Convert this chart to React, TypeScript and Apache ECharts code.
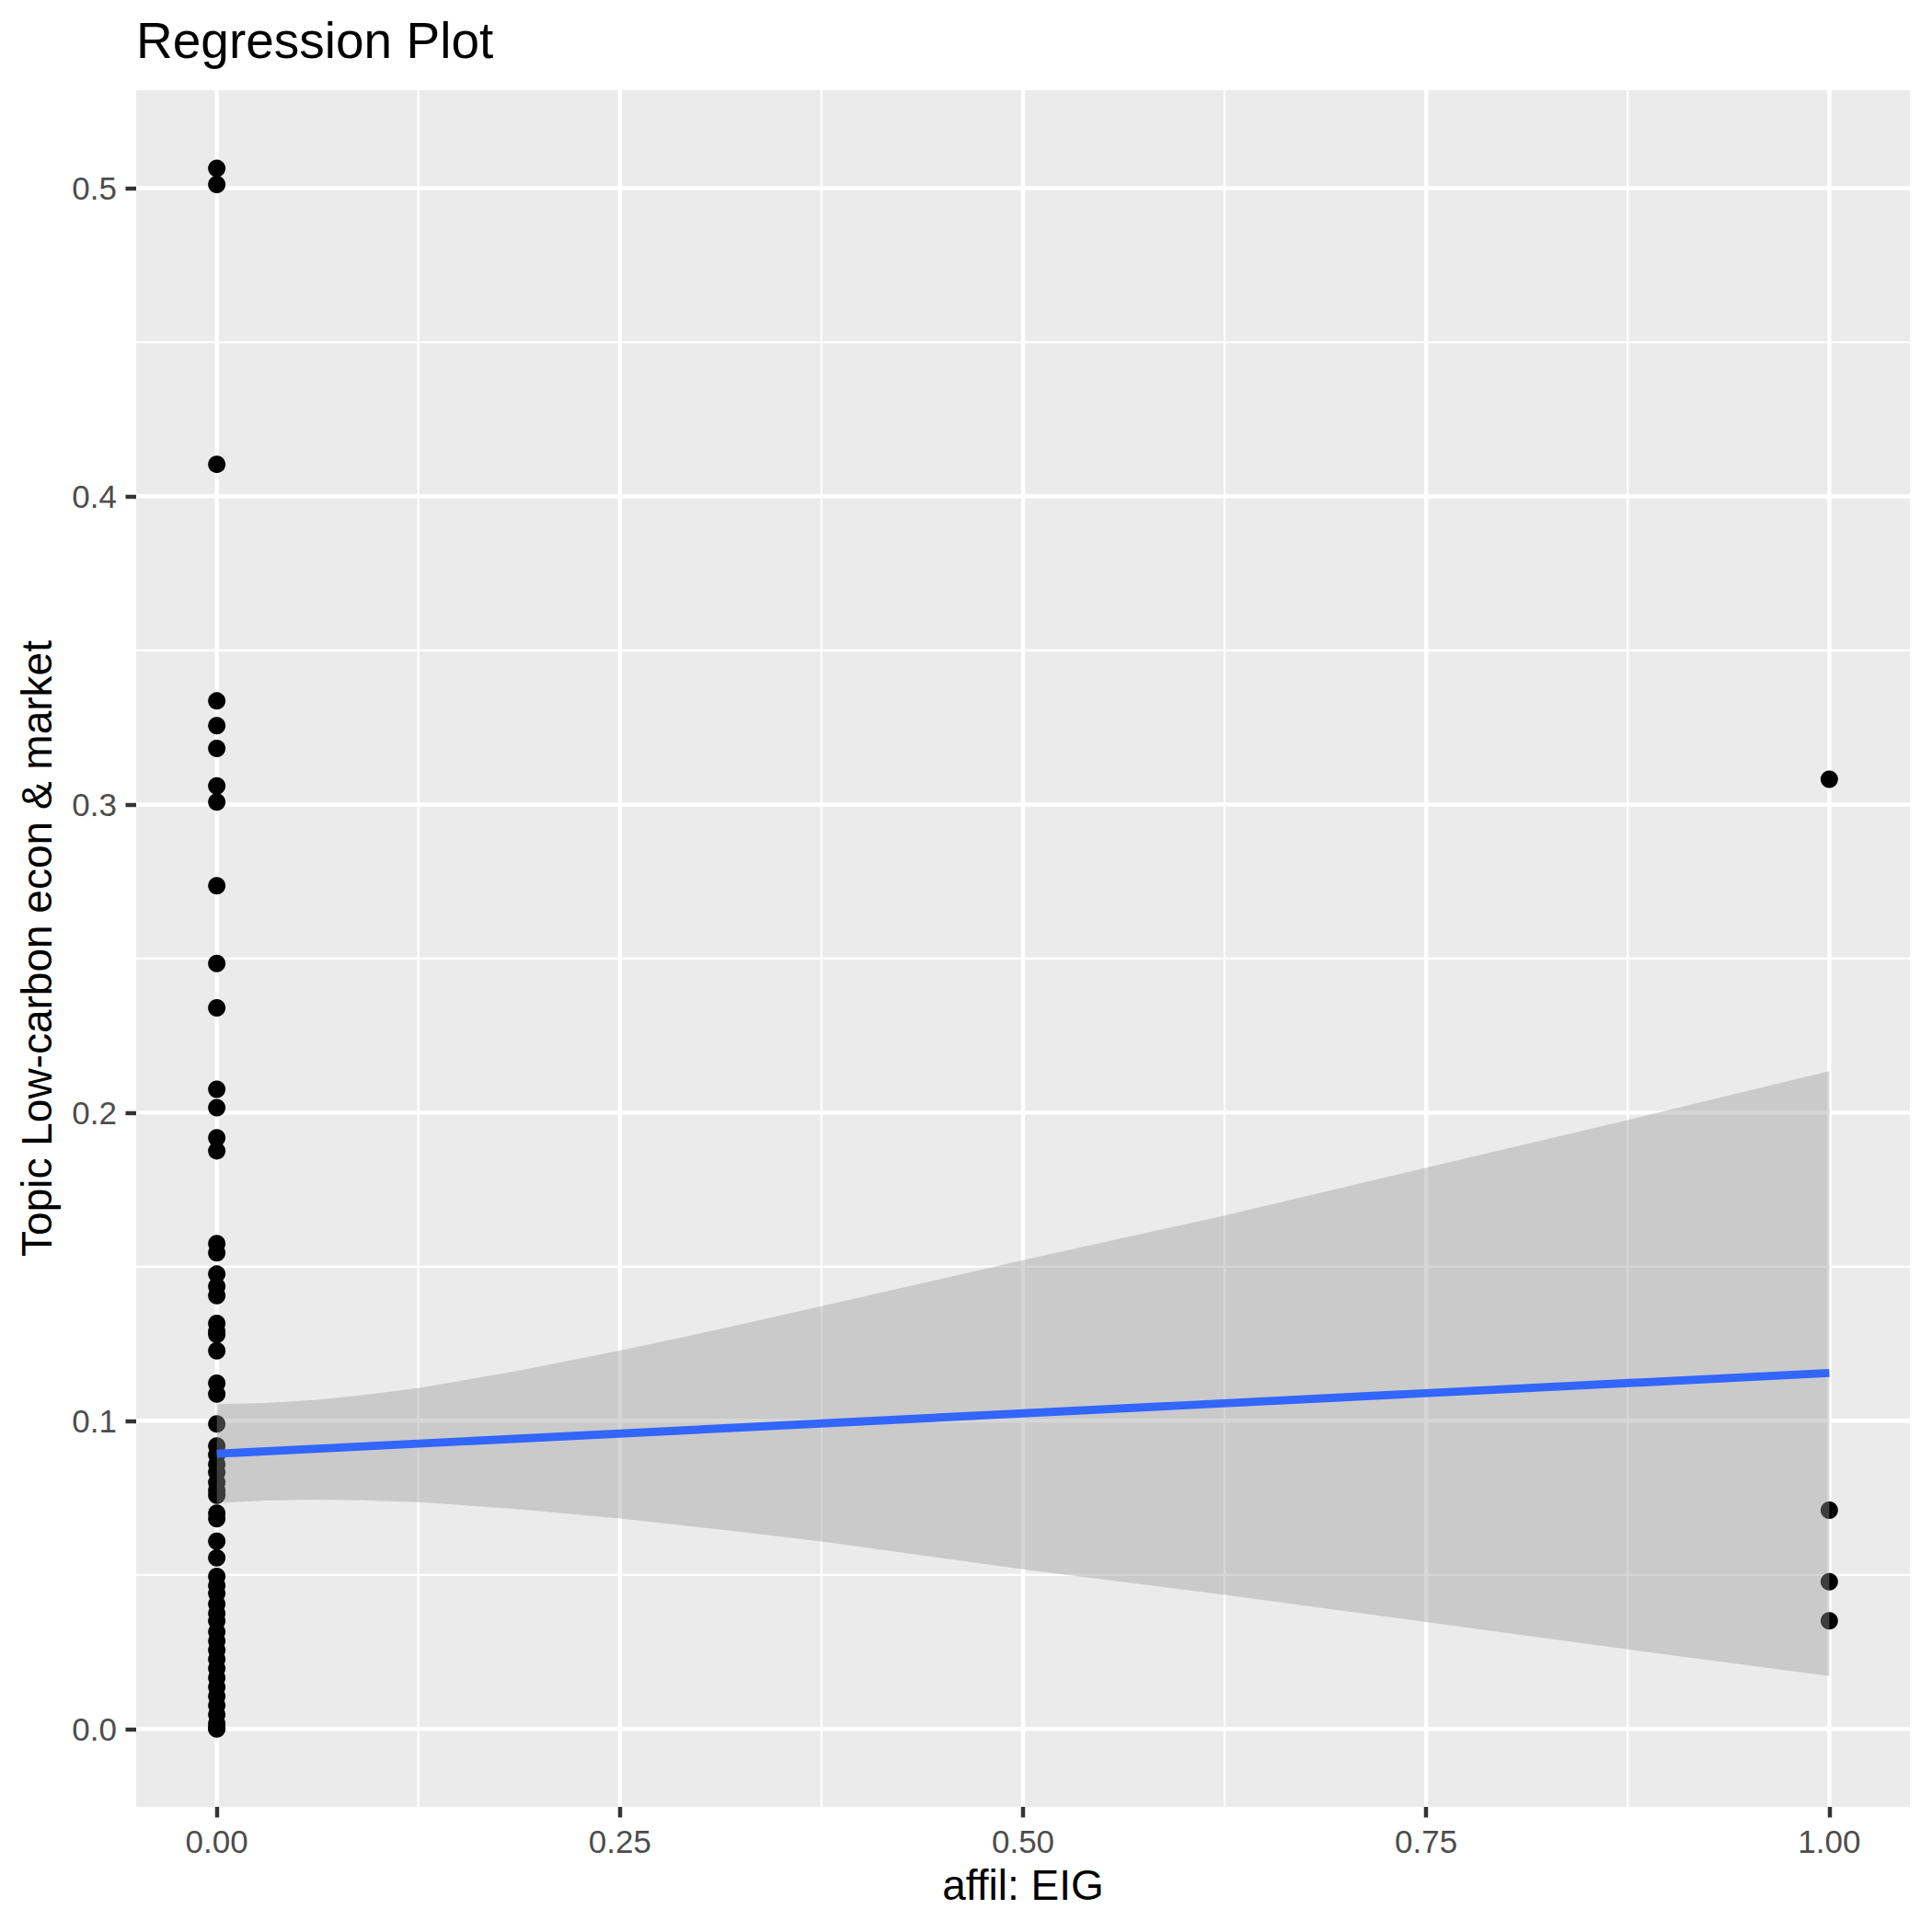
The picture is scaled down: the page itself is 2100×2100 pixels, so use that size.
import React, { useEffect, useRef } from "react";
import * as echarts from "echarts";

// ---- data ----
const groupZeroValues = [
  0.5064, 0.5012, 0.4104,
  0.3336, 0.3256, 0.3182, 0.306, 0.3008, 0.2736, 0.2484, 0.234, 0.2076, 0.2016,
  0.1918, 0.1876,
  0.1575, 0.1545, 0.1476, 0.1436, 0.1406, 0.1316, 0.129, 0.128, 0.1227, 0.1122, 0.1087, 0.099,
  0.0918, 0.089, 0.0858, 0.0833, 0.08, 0.0775, 0.0758, 0.07, 0.0682, 0.0609, 0.0555,
  0.0495, 0.0465, 0.044, 0.0405, 0.0375, 0.035, 0.0315, 0.0285, 0.0256, 0.0226,
  0.0196, 0.0166, 0.0136, 0.0106, 0.0076, 0.0046, 0.0017, 0.0003, 0.0,
];
const groupOneValues = [0.3082, 0.071, 0.0478, 0.0351];

const fitX = [0, 1];
const fitY = [0.0893, 0.1155];

const bandX = [0, 0.03, 0.0625, 0.09, 0.125, 0.1875, 0.25, 0.3125, 0.375, 0.5, 0.625, 0.75, 0.875, 1];
const bandUpper = [0.1054, 0.1058, 0.1068, 0.1083, 0.1106, 0.1163, 0.1228, 0.1298, 0.1372, 0.1521, 0.1666, 0.1821, 0.1976, 0.2135];
const bandLower = [0.0733, 0.0741, 0.0744, 0.0742, 0.0736, 0.0713, 0.0683, 0.0647, 0.0608, 0.0518, 0.0435, 0.0347, 0.0258, 0.0172];

const xTicks = [0, 0.25, 0.5, 0.75, 1];
const xMinor = [0.125, 0.375, 0.625, 0.875];
const yTicks = [0, 0.1, 0.2, 0.3, 0.4, 0.5];
const yMinor = [0.05, 0.15, 0.25, 0.35, 0.45];

const FONT = "'Liberation Sans', Arial, Helvetica, sans-serif";
const MAJOR_W = 4.45;
const MINOR_W = 2.2;

export default function App() {
  const ref = useRef<HTMLDivElement>(null);

  useEffect(() => {
    if (!ref.current) return;
    const chart = echarts.init(ref.current, null, { renderer: "svg" });

    // [x, y, lineWidth]
    const hLines = [
      ...yMinor.map((v) => [0, v, MINOR_W]),
      ...yTicks.map((v) => [0, v, MAJOR_W]),
    ];
    const vLines = [
      ...xMinor.map((v) => [v, 0, MINOR_W]),
      ...xTicks.map((v) => [v, 0, MAJOR_W]),
    ];

    const option: any = {
      animation: false,
      backgroundColor: "#ffffff",
      grid: {
        left: 148,
        right: 24,
        top: 98,
        bottom: 136,
        show: true,
        backgroundColor: "#EBEBEB",
        borderWidth: 0,
      },
      xAxis: {
        type: "value",
        min: -0.05,
        max: 1.05,
        axisLine: { show: false, onZero: false },
        splitLine: { show: false },
        axisTick: {
          show: true,
          customValues: xTicks,
          length: 11.5,
          lineStyle: { color: "#333333", width: MAJOR_W },
        },
        axisLabel: {
          customValues: xTicks,
          formatter: (v: number) => v.toFixed(2),
          color: "#4D4D4D",
          fontSize: 35,
          fontFamily: FONT,
          margin: 20,
        },
      },
      yAxis: {
        type: "value",
        min: -0.0253,
        max: 0.5318,
        axisLine: { show: false, onZero: false },
        splitLine: { show: false },
        axisTick: {
          show: true,
          customValues: yTicks,
          length: 11.5,
          lineStyle: { color: "#333333", width: MAJOR_W },
        },
        axisLabel: {
          customValues: yTicks,
          formatter: (v: number) => v.toFixed(1),
          color: "#4D4D4D",
          fontSize: 35,
          fontFamily: FONT,
          margin: 21,
        },
      },
      graphic: [
        {
          type: "text",
          x: 148,
          y: 44,
          style: {
            text: "Regression Plot",
            fontSize: 55,
            fontFamily: FONT,
            fill: "#000000",
            textAlign: "left",
            textVerticalAlign: "middle",
          },
        },
        {
          type: "text",
          x: 1112,
          y: 2049,
          style: {
            text: "affil: EIG",
            fontSize: 46,
            fontFamily: FONT,
            fill: "#000000",
            textAlign: "center",
            textVerticalAlign: "middle",
          },
        },
        {
          type: "text",
          x: 40,
          y: 1031,
          rotation: Math.PI / 2,
          style: {
            text: "Topic Low-carbon econ & market",
            fontSize: 46,
            fontFamily: FONT,
            fill: "#000000",
            textAlign: "center",
            textVerticalAlign: "middle",
          },
        },
      ],
      series: [
        {
          type: "custom",
          z: 1,
          silent: true,
          coordinateSystem: "cartesian2d",
          data: hLines,
          renderItem: (params: any, api: any) => {
            const cs = params.coordSys;
            const p = api.coord([0, api.value(1)]);
            return {
              type: "line",
              shape: { x1: cs.x, y1: p[1], x2: cs.x + cs.width, y2: p[1] },
              style: { stroke: "#FFFFFF", lineWidth: api.value(2) },
            };
          },
        },
        {
          type: "custom",
          z: 1,
          silent: true,
          coordinateSystem: "cartesian2d",
          data: vLines,
          renderItem: (params: any, api: any) => {
            const cs = params.coordSys;
            const p = api.coord([api.value(0), 0]);
            return {
              type: "line",
              shape: { x1: p[0], y1: cs.y, x2: p[0], y2: cs.y + cs.height },
              style: { stroke: "#FFFFFF", lineWidth: api.value(2) },
            };
          },
        },
        {
          type: "scatter",
          z: 5,
          silent: true,
          symbol: "circle",
          symbolSize: 19,
          itemStyle: { color: "#000000", borderWidth: 0, opacity: 1 },
          data: [
            ...groupZeroValues.map((v) => [0, v]),
            ...groupOneValues.map((v) => [1, v]),
          ],
        },
        {
          type: "custom",
          z: 6,
          silent: true,
          coordinateSystem: "cartesian2d",
          data: [[0, fitY[0]]],
          renderItem: (_params: any, api: any) => {
            const pts: number[][] = [];
            for (let i = 0; i < bandX.length; i++) pts.push(api.coord([bandX[i], bandUpper[i]]));
            for (let i = bandX.length - 1; i >= 0; i--) pts.push(api.coord([bandX[i], bandLower[i]]));
            return {
              type: "polygon",
              shape: { points: pts },
              style: { fill: "rgba(153,153,153,0.4)" },
            };
          },
        },
        {
          type: "line",
          z: 7,
          silent: true,
          symbol: "none",
          lineStyle: { color: "#3366FF", width: 8.9 },
          data: fitX.map((x, i) => [x, fitY[i]]),
        },
      ],
    };

    chart.setOption(option);
    return () => chart.dispose();
  }, []);

  return (
    <div
      ref={ref}
      style={{ position: "absolute", left: 0, top: 0, width: 2100, height: 2100, background: "#fff" }}
    />
  );
}
